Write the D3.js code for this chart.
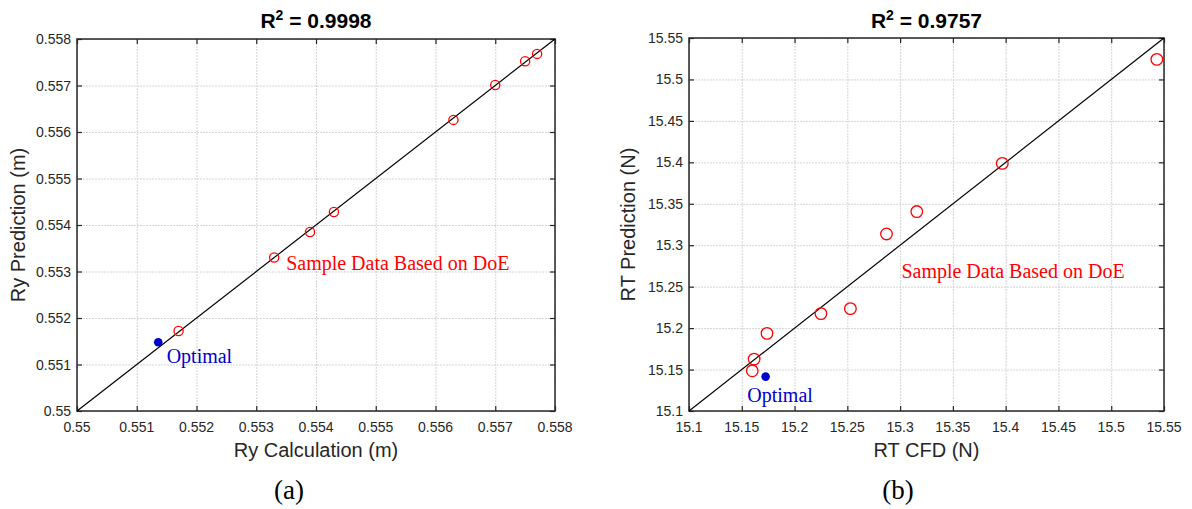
<!DOCTYPE html>
<html>
<head>
<meta charset="utf-8">
<script src="https://cdn.jsdelivr.net/npm/d3@7"></script>
<style>
  body { margin: 0; background: #fff; }
  svg { display: block; }
</style>
</head>
<body>
<svg id="chart" width="1192" height="509"></svg>
<script>
// panel (a): Ry
const ryTicks = [0.55, 0.551, 0.552, 0.553, 0.554, 0.555, 0.556, 0.557, 0.558];
const ryCalc = [0.5517, 0.5533, 0.5539, 0.5543, 0.5563, 0.5570, 0.5575, 0.5577];
const ryPred = [0.55172, 0.5533, 0.55385, 0.55428, 0.55626, 0.55701, 0.55752, 0.55768];
const ryOptimal = [0.55136, 0.55148];

// panel (b): RT
const rtTicks = [15.1, 15.15, 15.2, 15.25, 15.3, 15.35, 15.4, 15.45, 15.5, 15.55];
const rtCfd = [15.1599, 15.1617, 15.1739, 15.2250, 15.2529, 15.2871, 15.3158, 15.3968, 15.5432];
const rtPred = [15.1485, 15.1626, 15.1937, 15.2175, 15.2235, 15.3136, 15.3406, 15.3987, 15.5242];
const rtOptimal = [15.1726, 15.1415];

const svg = d3.select("#chart");
const sans = "'Liberation Sans', Arial, sans-serif";
const serif = "'Liberation Serif', 'Times New Roman', serif";

const panels = [
  {
    left: 77, right: 555, top: 39, bottom: 411,
    ticks: ryTicks, xs: ryCalc, ys: ryPred, opt: ryOptimal,
    r2: "0.9998", xLabel: "Ry Calculation (m)", yLabel: "Ry Prediction (m)",
    yLabelX: 18, tag: "(a)", tagX: 289, circleR: 4.6,
    sampleAt: [0.5535, 0.55303], optAt: [0.5515, 0.55104]
  },
  {
    left: 689, right: 1164, top: 38, bottom: 411,
    ticks: rtTicks, xs: rtCfd, ys: rtPred, opt: rtOptimal,
    r2: "0.9757", xLabel: "RT CFD (N)", yLabel: "RT Prediction (N)",
    yLabelX: 628, tag: "(b)", tagX: 898, circleR: 5.8,
    sampleAt: [15.3012, 15.261], optAt: [15.1552, 15.111]
  }
];

panels.forEach(p => drawPanel(p));

function drawPanel(p) {
  const lo = p.ticks[0], hi = p.ticks[p.ticks.length - 1];
  const x = d3.scaleLinear().domain([lo, hi]).range([p.left, p.right]);
  const y = d3.scaleLinear().domain([lo, hi]).range([p.bottom, p.top]);
  const fmt = d => String(+d.toFixed(3));
  const g = svg.append("g");

  // grid
  g.append("g")
    .attr("transform", `translate(0,${p.bottom})`)
    .call(d3.axisBottom(x).tickValues(p.ticks).tickSize(-(p.bottom - p.top)).tickFormat(""))
    .call(a => a.select(".domain").remove())
    .selectAll("line").attr("stroke", "#d4d4d4").attr("stroke-dasharray", "2,1");
  g.append("g")
    .attr("transform", `translate(${p.left},0)`)
    .call(d3.axisLeft(y).tickValues(p.ticks).tickSize(-(p.right - p.left)).tickFormat(""))
    .call(a => a.select(".domain").remove())
    .selectAll("line").attr("stroke", "#d4d4d4").attr("stroke-dasharray", "2,1");

  // inward ticks on all four sides
  const tk = 5;
  const axes = [
    [d3.axisBottom(x), `translate(0,${p.bottom})`],
    [d3.axisTop(x), `translate(0,${p.top})`],
    [d3.axisLeft(y), `translate(${p.left},0)`],
    [d3.axisRight(y), `translate(${p.right},0)`]
  ];
  axes.forEach(([ax, tr]) => {
    g.append("g").attr("transform", tr)
      .call(ax.tickValues(p.ticks).tickSizeInner(-tk).tickSizeOuter(0).tickFormat(""))
      .call(a => a.select(".domain").remove())
      .selectAll("line").attr("stroke", "#262626").attr("stroke-width", 1.2);
  });

  // tick labels
  g.selectAll(".xt").data(p.ticks).enter().append("text")
    .attr("x", d => x(d)).attr("y", p.bottom + 21)
    .attr("text-anchor", "middle")
    .style("font-family", sans).style("font-size", "14px").attr("fill", "#262626")
    .text(fmt);
  g.selectAll(".yt").data(p.ticks).enter().append("text")
    .attr("x", p.left - 6).attr("y", d => y(d) + 5)
    .attr("text-anchor", "end")
    .style("font-family", sans).style("font-size", "14px").attr("fill", "#262626")
    .text(fmt);

  // box
  g.append("rect")
    .attr("x", p.left).attr("y", p.top)
    .attr("width", p.right - p.left).attr("height", p.bottom - p.top)
    .attr("fill", "none").attr("stroke", "#262626").attr("stroke-width", 1.5);

  // y = x reference line
  g.append("line")
    .attr("x1", x(lo)).attr("y1", y(lo)).attr("x2", x(hi)).attr("y2", y(hi))
    .attr("stroke", "#000").attr("stroke-width", 1.2);

  // sample points
  g.selectAll(".pt").data(p.xs.map((v, i) => [v, p.ys[i]])).enter().append("circle")
    .attr("cx", d => x(d[0])).attr("cy", d => y(d[1])).attr("r", p.circleR)
    .attr("fill", "none").attr("stroke", "#ff0000").attr("stroke-width", 1.3);

  // optimal point
  g.append("circle")
    .attr("cx", x(p.opt[0])).attr("cy", y(p.opt[1])).attr("r", 4.3)
    .attr("fill", "#0000cc");

  // annotations
  g.append("text")
    .attr("x", x(p.sampleAt[0])).attr("y", y(p.sampleAt[1]))
    .style("font-family", serif).style("font-size", "20px").attr("fill", "#ff0000")
    .text("Sample Data Based on DoE");
  g.append("text")
    .attr("x", x(p.optAt[0])).attr("y", y(p.optAt[1]))
    .style("font-family", serif).style("font-size", "20px").attr("fill", "#0000cc")
    .text("Optimal");

  // title
  const title = g.append("text")
    .attr("x", (p.left + p.right) / 2).attr("y", 28)
    .attr("text-anchor", "middle")
    .style("font-family", sans).style("font-size", "21px").style("font-weight", "bold");
  title.append("tspan").text("R");
  title.append("tspan").attr("dy", -8).style("font-size", "14px").text("2");
  title.append("tspan").attr("dy", 8).text(" = " + p.r2);

  // axis labels
  g.append("text")
    .attr("x", (p.left + p.right) / 2).attr("y", 457)
    .attr("text-anchor", "middle")
    .style("font-family", sans).style("font-size", "20px").attr("fill", "#262626")
    .text(p.xLabel);
  g.append("text")
    .attr("transform", `translate(${p.yLabelX + 7},${(p.top + p.bottom) / 2}) rotate(-90)`)
    .attr("text-anchor", "middle")
    .style("font-family", sans).style("font-size", "20px").attr("fill", "#262626")
    .text(p.yLabel);

  // panel tag
  g.append("text")
    .attr("x", p.tagX).attr("y", 499)
    .attr("text-anchor", "middle")
    .style("font-family", serif).style("font-size", "27px")
    .text(p.tag);
}
</script>
</body>
</html>
